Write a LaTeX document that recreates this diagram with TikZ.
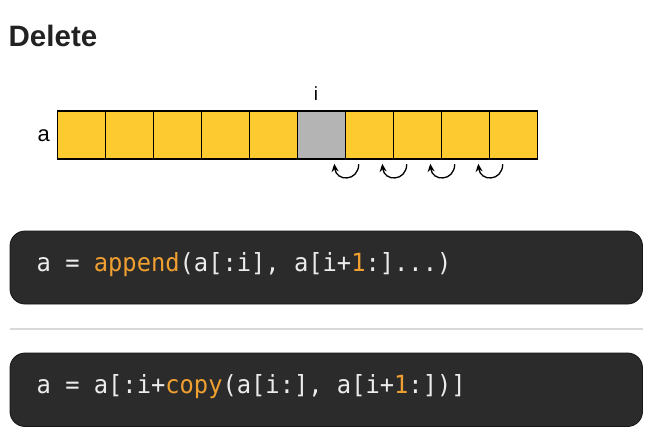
\documentclass[tikz,border=0pt]{standalone}
\usepackage{fontspec}
\setmainfont{Liberation Sans}
\newfontfamily\codefont[FakeStretch=0.95]{DejaVu Sans Mono}
\usetikzlibrary{arrows.meta}
\definecolor{cellyellow}{HTML}{FDCB2F}
\definecolor{cellgray}{HTML}{B4B4B4}
\definecolor{codebg}{HTML}{2B2B2B}
\definecolor{codeborder}{HTML}{151515}
\definecolor{codetext}{HTML}{ECECEC}
\definecolor{codeorange}{HTML}{F0A030}
\definecolor{sepgray}{HTML}{D9D9D9}
\definecolor{titletext}{HTML}{222222}
\tikzset{
  cellbox/.style={draw=black, line width=1.5pt, minimum size=48pt, inner sep=0pt, fill=cellyellow},
  holebox/.style={cellbox, fill=cellgray},
  codebox/.style={draw=codeborder, line width=0.8pt, fill=codebg, rounded corners=15pt},
  codeline/.style={anchor=base west, inner sep=0pt, text=codetext, font=\codefont\fontsize{25}{30}\selectfont},
  shiftarrow/.style={line width=1.3pt, -{Stealth[length=8pt,width=7pt]}},
}
\newcommand{\hl}[1]{\textcolor{codeorange}{#1}}
\begin{document}
\begin{tikzpicture}[x=1pt,y=-1pt]
\useasboundingbox (0,0) rectangle (653,444);
\fill[white] (0,0) rectangle (653,444);
% title
\node[anchor=base west, inner sep=0pt, text=titletext, font=\bfseries\fontsize{29.5}{33}\selectfont] (title) at (8.5,47) {Delete};
% cells
\foreach \k in {0,...,9} {
  \ifnum\k=5
    \node[holebox] (c\k) at ({81.5+48*\k},135) {};
  \else
    \node[cellbox] (c\k) at ({81.5+48*\k},135) {};
  \fi
}
\node[anchor=base, inner sep=0pt, font=\fontsize{22}{26}\selectfont] (alabel) at (43.8,141.5) {a};
\node[anchor=base, inner sep=0pt, font=\fontsize{19}{22}\selectfont] (ilabel) at (316,100.5) {i};
% shift arrows
\foreach \k in {5,6,7,8} {
  \draw[shiftarrow] ([shift={(12.5,4.5)}]c\k.south east) .. controls ([shift={(12,22)}]c\k.south east) and ([shift={(-10,22)}]c\k.south east) .. ([shift={(-12,4)}]c\k.south east);
}
% code boxes
\draw[codebox] (10,231) rectangle (642.5,304);
\node[codeline] (code1) at (36.5,271.5) {a = \hl{append}(a[:i], a[i+\hl{1}:]...)};
\draw[sepgray, line width=2pt] (10,329) -- (643,329);
\draw[codebox] (10,353) rectangle (642.5,426.5);
\node[codeline] (code2) at (36.5,393.5) {a = a[:i+\hl{copy}(a[i:], a[i+\hl{1}:])]};
\end{tikzpicture}
\end{document}
